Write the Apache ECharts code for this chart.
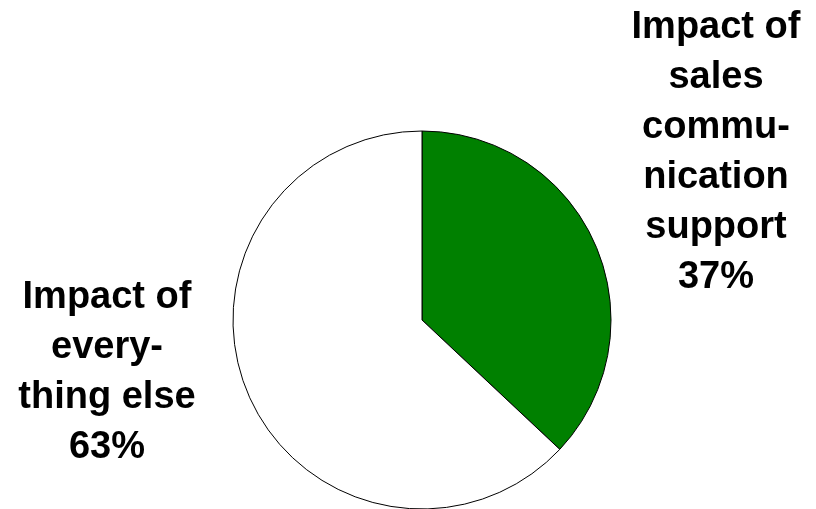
<!DOCTYPE html>
<html>
<head>
<meta charset="utf-8">
<script src="https://cdn.jsdelivr.net/npm/echarts@6/dist/echarts.min.js"></script>
<style>
  html, body { margin: 0; padding: 0; background: #ffffff; }
  #chart { width: 816px; height: 509px; }
</style>
</head>
<body>
<div id="chart"></div>
<script>
// Share of impact, in percent
const categories = [
  'Impact of\nsales\ncommu-\nnication\nsupport',
  'Impact of\nevery-\nthing else'
];
const values = [37, 63];
const colors = ['#008000', '#ffffff'];

// Where each label block sits (centre of the text block)
const labelSpots = [
  { x: 716, y: 153 },
  { x: 107, y: 373 }
];

const chart = echarts.init(document.getElementById('chart'), null, { renderer: 'canvas' });

chart.setOption({
  backgroundColor: '#ffffff',
  animation: false,
  series: [{
    type: 'pie',
    center: [422, 320],
    radius: 189,
    startAngle: 90,
    clockwise: true,
    silent: true,
    data: categories.map((name, i) => ({
      name: name,
      value: values[i],
      itemStyle: { color: colors[i] }
    })),
    itemStyle: { borderColor: '#000000', borderWidth: 1 },
    label: {
      show: true,
      position: 'outside',
      formatter: '{b}\n{c}%',
      fontFamily: '"Liberation Sans", Arial, sans-serif',
      fontWeight: 'bold',
      fontSize: 38,
      lineHeight: 50,
      color: '#000000',
      align: 'center',
      overflow: 'none',
      width: 300
    },
    labelLine: { show: false },
    labelLayout: function (params) {
      const spot = labelSpots[params.dataIndex];
      return { x: spot.x, y: spot.y, align: 'center', verticalAlign: 'middle' };
    }
  }]
});
</script>
</body>
</html>
